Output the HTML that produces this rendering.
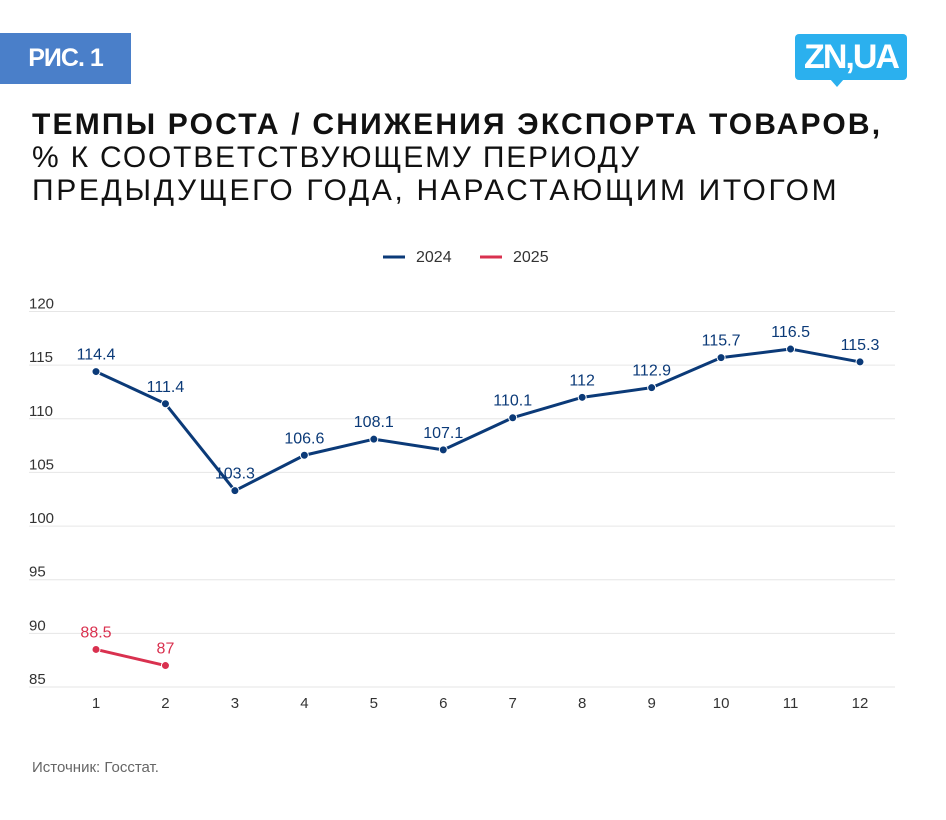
<!DOCTYPE html>
<html><head><meta charset="utf-8"><style>
body{margin:0;background:#fff;font-family:"Liberation Sans",sans-serif;}
#wrap{position:relative;width:946px;height:820px;overflow:hidden;}
.abs{position:absolute;}
</style></head><body>
<div id="wrap">
<div class="abs" style="left:0;top:33px;width:131px;height:51px;background:#4a7fc9;color:#fff;font-weight:bold;font-size:25px;line-height:51px;text-align:center;letter-spacing:-1px">РИС. 1</div>
<div class="abs" style="left:795px;top:34px;width:112px;height:46px;background:#2bb0ee;border-radius:4px;color:#fff;font-weight:bold;font-size:34px;line-height:46px;text-align:center;letter-spacing:-2px">ZN,UA</div>
<div class="abs" style="left:830px;top:79px;width:0;height:0;border-left:7px solid transparent;border-right:7px solid transparent;border-top:8px solid #2bb0ee"></div>
<div class="abs" style="left:32px;top:108px;font-size:30px;line-height:33px;color:#111">
<div style="font-weight:bold;letter-spacing:2.2px">ТЕМПЫ РОСТА / СНИЖЕНИЯ ЭКСПОРТА ТОВАРОВ,</div>
<div style="font-weight:normal;letter-spacing:1.8px">% К СООТВЕТСТВУЮЩЕМУ ПЕРИОДУ</div>
<div style="font-weight:normal;letter-spacing:2.65px">ПРЕДЫДУЩЕГО ГОДА, НАРАСТАЮЩИМ ИТОГОМ</div>
</div>
<div class="abs" style="left:32px;top:759px;font-size:15px;color:#666">Источник: Госстат.</div>
<svg id="chart" class="abs" style="left:0;top:0" width="946" height="820"></svg>
</div>
<script>
const categories=[1,2,3,4,5,6,7,8,9,10,11,12];
const values2024=[114.4,111.4,103.3,106.6,108.1,107.1,110.1,112,112.9,115.7,116.5,115.3];
const values2025=[88.5,87];
const yTicks=[85,90,95,100,105,110,115,120];
const seriesNames=["2024","2025"];
const NS="http://www.w3.org/2000/svg";
const svg=document.getElementById('chart');
function x(i){return 96+(i)*(860-96)/11;}
function y(v){return 687-(v-85)*(687-311.5)/35;}
function el(t,a,parent){const e=document.createElementNS(NS,t);for(const k in a)e.setAttribute(k,a[k]);(parent||svg).appendChild(e);return e;}
yTicks.forEach(t=>{
 const g=el('line',{x1:29,x2:895,y1:y(t),y2:y(t),stroke:'#e6e6e6','stroke-width':1});
 
 
 const l=el('text',{x:29,y:y(t)-3,'font-size':15,fill:'#333','font-family':'Liberation Sans, sans-serif'});
 l.textContent=t;
 
 
});
categories.forEach((c,i)=>{
 const l=el('text',{x:x(i),y:708,'font-size':15,fill:'#333','text-anchor':'middle','font-family':'Liberation Sans, sans-serif'});
 l.textContent=c;
 
 
});
function series(vals,color,name){
 const p=el('polyline',{points:vals.map((v,i)=>x(i)+','+y(v)).join(' '),fill:'none',stroke:color,'stroke-width':3,'stroke-linejoin':'round'});
 
 
 vals.forEach((v,i)=>{
  const c=el('circle',{cx:x(i),cy:y(v),r:4,fill:color,stroke:'#fff','stroke-width':1});
  
  
  const t=el('text',{x:x(i),y:y(v)-12,'font-size':16,fill:color,'text-anchor':'middle','font-family':'Liberation Sans, sans-serif'});
  t.textContent=v;
  
  
 });
}
series(values2024,'#0b3a78','2024');
series(values2025,'#d9314f','2025');
const legendColors=['#0b3a78','#d9314f'];
const legendX=[383,480];
seriesNames.forEach((n,i)=>{
 const g=el('g',{});
 
 
 el('line',{x1:legendX[i],x2:legendX[i]+22,y1:257,y2:257,stroke:legendColors[i],'stroke-width':3},g);
 const t=el('text',{x:legendX[i]+33,y:262,'font-size':16,fill:'#333','font-family':'Liberation Sans, sans-serif'},g);
 t.textContent=n;
});
</script>
</body></html>
